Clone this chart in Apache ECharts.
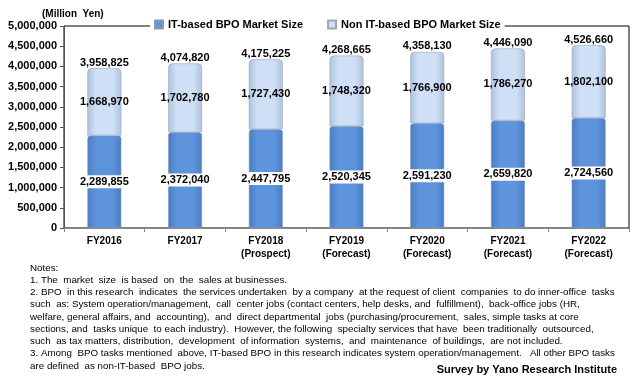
<!DOCTYPE html>
<html><head><meta charset="utf-8">
<script src="https://cdn.jsdelivr.net/npm/echarts@6/dist/echarts.min.js"></script>
<style>html,body{margin:0;padding:0;background:#fff}#c{width:637px;height:385px}</style>
</head><body><div id="c"></div>
<script>
const categories = ['FY2016','FY2017','FY2018\n(Prospect)','FY2019\n(Forecast)','FY2020\n(Forecast)','FY2021\n(Forecast)','FY2022\n(Forecast)'];
const itBased = [2289855, 2372040, 2447795, 2520345, 2591230, 2659820, 2724560];
const nonItBased = [1668970, 1702780, 1727430, 1748320, 1766900, 1786270, 1802100];
const totals = [3958825, 4074820, 4175225, 4268665, 4358130, 4446090, 4526660];
const seriesNames = ['IT-based BPO Market Size', 'Non IT-based BPO Market Size'];
const notes = [
 'Notes:',
 '1. The  market  size  is based  on  the  sales at businesses.',
 '2. BPO  in this research  indicates  the services undertaken  by a company  at the request of client  companies  to do inner-office  tasks',
 'such  as: System operation/management,  call  center jobs (contact centers, help desks, and  fulfillment),  back-office jobs (HR,',
 'welfare, general affairs, and  accounting),  and  direct departmental  jobs (purchasing/procurement,  sales, simple tasks at core',
 'sections, and  tasks unique  to each industry).  However, the following  specialty services that have  been traditionally  outsourced,',
 'such  as tax matters, distribution,  development  of information  systems,  and  maintenance  of buildings,  are not included.',
 '3. Among  BPO tasks mentioned  above, IT-based BPO in this research indicates system operation/management.   All other BPO tasks',
 'are defined  as non-IT-based  BPO jobs.'
];
const FONT = 'Liberation Sans';
const fmt = v => Number(v).toLocaleString('en-US');
const grad = (edge, mid) => new echarts.graphic.LinearGradient(0,0,1,0,[
  {offset:0,color:edge},{offset:0.25,color:mid},{offset:0.75,color:mid},{offset:1,color:edge}]);

const chart = echarts.init(document.getElementById('c'), null, {renderer:'canvas'});
const graphics = notes.map((t,i)=>({type:'text', left:30, top:263 + i*12.25,
  style:{text:t, font:'9.8px "'+FONT+'"', fill:'#000'}}));
graphics.push({type:'text', right:20, top:364, style:{text:'Survey by Yano Research Institute', font:'bold 11px "'+FONT+'"', fill:'#000'}});
graphics.push({type:'text', left:42, top:9, style:{text:'(Million  Yen)', font:'bold 10px "'+FONT+'"', fill:'#000'}});

chart.setOption({
  animation:false,
  backgroundColor:'#fff',
  textStyle:{fontFamily:FONT},
  grid:{left:64, right:8, top:26, bottom:157, show:true, borderColor:'#000', borderWidth:1, backgroundColor:'transparent'},
  legend:{top:17, left:150, itemGap:24, itemWidth:8, itemHeight:8, icon:'rect',
    backgroundColor:'#fff', padding:[2,4],
    textStyle:{fontSize:11, fontWeight:'bold', color:'#000', fontFamily:FONT},
    data:seriesNames},
  xAxis:{type:'category', data:categories,
    axisLine:{lineStyle:{color:'#888'}}, axisTick:{show:true, alignWithLabel:false, length:4, lineStyle:{color:'#888'}},
    axisLabel:{fontSize:10, fontWeight:'bold', color:'#000', margin:7, lineHeight:13, interval:0}},
  yAxis:{type:'value', min:0, max:5000000, interval:500000,
    axisLine:{show:true, lineStyle:{color:'#555'}}, axisTick:{show:true, length:4, inside:false, lineStyle:{color:'#555'}},
    splitLine:{show:false},
    axisLabel:{fontSize:11, fontWeight:'bold', color:'#000', margin:7, formatter:v=>fmt(v)}},
  series:[
    {name:seriesNames[0], type:'bar', stack:'t', data:itBased, barWidth:'42%',
      itemStyle:{color:grad('#4a7cc2','#5d94dc'), borderColor:'#8a9bb0', borderWidth:0.6, borderRadius:[3,3,0,0]},
      label:{show:true, position:'inside', formatter:p=>fmt(p.value), color:'#000', fontSize:11, fontWeight:'bold',
        backgroundColor:'#fff', padding:[1,2]}},
    {name:seriesNames[1], type:'bar', stack:'t', data:nonItBased,
      itemStyle:{color:grad('#adc2de','#cfe0f6'), borderColor:'#9aa6b4', borderWidth:0.6, borderRadius:[4,4,0,0]},
      label:{show:true, position:'inside', formatter:p=>fmt(p.value), color:'#000', fontSize:11, fontWeight:'bold'}},
    {name:'total', type:'scatter', data:totals, symbolSize:0, silent:true, z:5,
      itemStyle:{opacity:1, color:'rgba(0,0,0,0)'},
      label:{show:true, position:'top', distance:0, formatter:p=>fmt(p.value), color:'#000', opacity:1, fontSize:11, fontWeight:'bold'}}
  ],
  graphic:graphics
});
</script></body></html>
